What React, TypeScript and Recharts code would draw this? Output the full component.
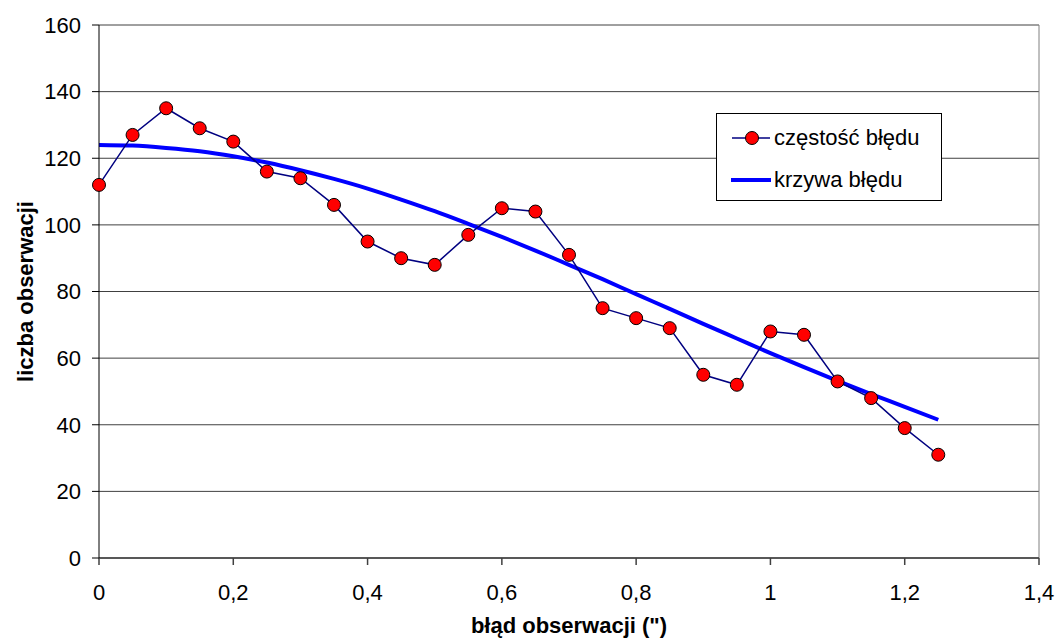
import React from 'react';
import { LineChart, Line, XAxis, YAxis, CartesianGrid, Legend, ReferenceLine } from 'recharts';

const errors = [0, 0.05, 0.1, 0.15, 0.2, 0.25, 0.3, 0.35, 0.4, 0.45, 0.5, 0.55, 0.6, 0.65, 0.7, 0.75, 0.8, 0.85, 0.9, 0.95, 1.0, 1.05, 1.1, 1.15, 1.2, 1.25];
const frequency = [112, 127, 135, 129, 125, 116, 114, 106, 95, 90, 88, 97, 105, 104, 91, 75, 72, 69, 55, 52, 68, 67, 53, 48, 39, 31];
const errorCurve = [124, 123.8, 123.1, 122.1, 120.6, 118.7, 116.4, 113.8, 110.9, 107.6, 104.1, 100.3, 96.4, 92.3, 88.0, 83.7, 79.2, 74.8, 70.3, 65.9, 61.5, 57.3, 53.2, 49.2, 45.4, 41.5];
const xTicks = [0, 0.2, 0.4, 0.6, 0.8, 1, 1.2, 1.4];
const yTicks = [0, 20, 40, 60, 80, 100, 120, 140, 160];

const FREQ_NAME = 'częstość błędu';
const CURVE_NAME = 'krzywa błędu';

const data = errors.map((x, i) => ({ x, freq: frequency[i], curve: errorCurve[i] }));

const FONT = '"Liberation Sans", Arial, sans-serif';
const FS = 22;

const LegendBox = () => (
  <div
    style={{
      width: 226,
      height: 88,
      boxSizing: 'border-box',
      border: '1px solid #000',
      background: '#fff',
      position: 'relative',
      fontFamily: FONT,
      fontSize: FS,
      color: '#000',
    }}
  >
    <div style={{ position: 'absolute', left: 0, top: 11, height: 26, display: 'flex', alignItems: 'center' }}>
      <svg width={57} height={26} style={{ display: 'block' }}>
        <line x1={15} y1={13} x2={53} y2={13} stroke="#000080" strokeWidth={1.5} />
        <circle cx={35} cy={13} r={6.5} fill="#FF0000" stroke="#000" strokeWidth={1} />
      </svg>
      <span style={{ whiteSpace: 'nowrap', lineHeight: '26px' }}>{FREQ_NAME}</span>
    </div>
    <div style={{ position: 'absolute', left: 0, top: 53, height: 26, display: 'flex', alignItems: 'center' }}>
      <svg width={57} height={26} style={{ display: 'block' }}>
        <line x1={14} y1={13} x2={54} y2={13} stroke="#0000FF" strokeWidth={4} />
      </svg>
      <span style={{ whiteSpace: 'nowrap', lineHeight: '26px' }}>{CURVE_NAME}</span>
    </div>
  </div>
);

const YTitle = (props: any) => {
  const vb = props.viewBox || { x: 0, y: 0, width: 0, height: 0 };
  const cx = vb.x + 33;
  const cy = vb.y + vb.height / 2;
  return (
    <text
      x={cx}
      y={cy}
      transform={`rotate(-90, ${cx}, ${cy})`}
      textAnchor="middle"
      fontFamily={FONT}
      fontSize={FS}
      fontWeight="bold"
      fill="#000"
    >
      liczba obserwacji
    </text>
  );
};

export default function App() {
  return (
    <div style={{ position: 'absolute', left: 0, top: 0, width: 1059, height: 639, background: '#fff' }}>
      <LineChart
        width={1059}
        height={639}
        data={data}
        margin={{ top: 25, right: 20, bottom: 0, left: 0 }}
        style={{ fontFamily: FONT }}
      >
        <CartesianGrid vertical={false} stroke="#404040" strokeWidth={1} />
        <ReferenceLine x={1.4} stroke="#808080" strokeWidth={1} />
        <XAxis
          dataKey="x"
          type="number"
          domain={[0, 1.4]}
          ticks={xTicks}
          interval={0}
          height={81}
          tickSize={7}
          tickMargin={19}
          stroke="#404040"
          strokeWidth={1.5}
          tick={{ fill: '#000', fontSize: FS, fontFamily: FONT }}
          tickFormatter={(v: number) => String(v).replace('.', ',')}
          label={{
            value: 'błąd obserwacji (")',
            position: 'insideBottom',
            offset: 6,
            style: { fontFamily: FONT, fontSize: FS, fontWeight: 'bold', fill: '#000' },
          }}
        />
        <YAxis
          type="number"
          domain={[0, 160]}
          ticks={yTicks}
          interval={0}
          width={99}
          tickSize={7}
          tickMargin={11}
          stroke="#000"
          tick={{ fill: '#000', fontSize: FS, fontFamily: FONT }}
          label={{ content: YTitle }}
        />
        <Legend
          content={<LegendBox />}
          layout="horizontal"
          align="center"
          verticalAlign="middle"
          wrapperStyle={{ left: 716, top: 113, width: 226, height: 88 }}
        />
        <Line
          name={CURVE_NAME}
          dataKey="curve"
          type="monotone"
          stroke="#0000FF"
          strokeWidth={4}
          dot={false}
          activeDot={false}
          isAnimationActive={false}
        />
        <Line
          name={FREQ_NAME}
          dataKey="freq"
          type="linear"
          stroke="#000080"
          strokeWidth={1.5}
          dot={{ r: 6.5, fill: '#FF0000', stroke: '#000', strokeWidth: 1 }}
          activeDot={false}
          isAnimationActive={false}
        />
      </LineChart>
    </div>
  );
}
